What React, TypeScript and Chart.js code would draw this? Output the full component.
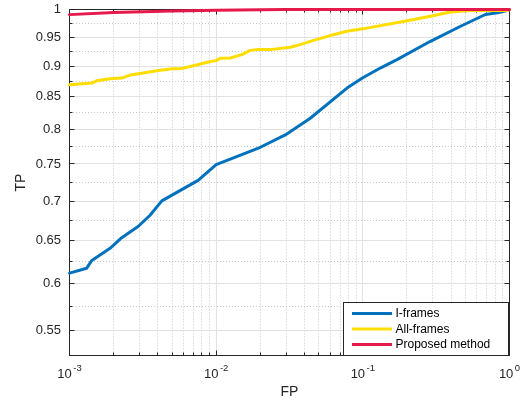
import React, { useEffect, useRef } from "react";
import { Chart, registerables } from "chart.js";

Chart.register(...registerables);

// ---------- data ----------
const iframesFP = [0.001, 0.00131, 0.00142, 0.00189, 0.00227, 0.00295, 0.00354, 0.00426, 0.00753, 0.01, 0.02, 0.0296, 0.0438, 0.078, 0.1, 0.1315, 0.171, 0.289, 0.464, 0.685, 0.83, 0.964, 1];
const iframesTP = [0.612, 0.6177, 0.6267, 0.641, 0.6538, 0.6679, 0.6817, 0.7002, 0.7275, 0.749, 0.7737, 0.7917, 0.8167, 0.8638, 0.8807, 0.8967, 0.9108, 0.9425, 0.9693, 0.9907, 0.994, 0.998, 1];

const allFramesFP = [0.001, 0.00142, 0.00153, 0.00189, 0.00227, 0.00259, 0.00303, 0.00394, 0.00499, 0.00583, 0.007, 0.00885, 0.0101, 0.01064, 0.01246, 0.01496, 0.01706, 0.01897, 0.0234, 0.032, 0.0374, 0.0461, 0.06, 0.078, 0.1, 0.2005, 0.289, 0.395, 0.542, 0.97, 1];
const allFramesTP = [0.8692, 0.872, 0.8757, 0.879, 0.8801, 0.885, 0.8878, 0.8922, 0.8956, 0.896, 0.9006, 0.9069, 0.9096, 0.9133, 0.9136, 0.9193, 0.9267, 0.928, 0.928, 0.932, 0.9367, 0.9442, 0.9526, 0.9603, 0.9646, 0.9793, 0.9876, 0.9953, 0.998, 0.998, 1];

const proposedFP = [0.001, 0.002, 0.005, 0.01, 0.02, 0.03, 1];
const proposedTP = [0.9905, 0.9945, 0.997, 0.9985, 0.9995, 1, 1];

const seriesNames = ["I-frames", "All-frames", "Proposed method"];
const seriesColors = ["#0072bd", "#ffdd00", "#e5194c"];

const xMajorTicks = [0.001, 0.01, 0.1, 1];
const xMajorExponents = ["-3", "-2", "-1", "0"];
const xMinorTicks = [0.002, 0.003, 0.004, 0.005, 0.006, 0.007, 0.008, 0.009, 0.02, 0.03, 0.04, 0.05, 0.06, 0.07, 0.08, 0.09, 0.2, 0.3, 0.4, 0.5, 0.6, 0.7, 0.8, 0.9];
const yMajorTicks = [0.55, 0.6, 0.65, 0.7, 0.75, 0.8, 0.85, 0.9, 0.95, 1];
const yMinorTicks = [0.525, 0.575, 0.625, 0.675, 0.725, 0.775, 0.825, 0.875, 0.925, 0.975];
const xMin = 0.001, xMax = 1, yMin = 0.525, yMax = 1;

const FONT = "'Liberation Sans', Arial, Helvetica, sans-serif";
const AXIS_COLOR = "#262626";

const toPoints = (xs: number[], ys: number[]) => xs.map((x, i) => ({ x, y: ys[i] }));

const crisp = (v: number) => Math.round(v - 0.5) + 0.5;

const matlabPlugin = {
  id: "matlabAxes",
  beforeDatasetsDraw(chart: any) {
    const { ctx, chartArea: a, scales } = chart;
    const xs = scales.x, ys = scales.y;
    ctx.save();
    ctx.strokeStyle = AXIS_COLOR;
    ctx.lineWidth = 1;
    const L = crisp(a.left), R = crisp(a.right), T = crisp(a.top), B = crisp(a.bottom);
    ctx.beginPath();
    ctx.rect(L, T, R - L, B - T);
    ctx.stroke();
    ctx.beginPath();
    const yTick = (v: number, len: number) => {
      const p = crisp(ys.getPixelForValue(v));
      ctx.moveTo(L, p); ctx.lineTo(L + len, p);
      ctx.moveTo(R, p); ctx.lineTo(R - len, p);
    };
    const xTick = (v: number, len: number) => {
      const p = crisp(xs.getPixelForValue(v));
      ctx.moveTo(p, B); ctx.lineTo(p, B - len);
      ctx.moveTo(p, T); ctx.lineTo(p, T + len);
    };
    yMajorTicks.forEach((v) => yTick(v, 5));
    yMinorTicks.forEach((v) => yTick(v, 3));
    xMajorTicks.forEach((v) => xTick(v, 5));
    xMinorTicks.forEach((v) => xTick(v, 3));
    ctx.stroke();

    // x tick labels 10^n
    ctx.fillStyle = AXIS_COLOR;
    ctx.textBaseline = "alphabetic";
    ctx.textAlign = "left";
    xMajorTicks.forEach((v, i) => {
      const p = xs.getPixelForValue(v);
      ctx.font = `13px ${FONT}`;
      const w1 = ctx.measureText("10").width;
      ctx.font = `9.5px ${FONT}`;
      const w2 = ctx.measureText(xMajorExponents[i]).width;
      const gap = 1.5;
      const start = p - (w1 + gap + w2) / 2;
      ctx.font = `13px ${FONT}`;
      ctx.fillText("10", start, a.bottom + 22);
      ctx.font = `9.5px ${FONT}`;
      ctx.fillText(xMajorExponents[i], start + w1 + gap, a.bottom + 15.5);
    });
    ctx.restore();
  },
  afterDraw(chart: any) {
    const { ctx, chartArea: a } = chart;
    ctx.save();
    const L = 343.5, T = 302.5, R = crisp(a.right) - 1, B = crisp(a.bottom);
    ctx.fillStyle = "#ffffff";
    ctx.fillRect(L, T, R - L, B - T);
    ctx.strokeStyle = AXIS_COLOR;
    ctx.lineWidth = 1;
    ctx.strokeRect(L, T, R - L, B - T);
    ctx.font = `12px ${FONT}`;
    ctx.textBaseline = "middle";
    ctx.textAlign = "left";
    chart.data.datasets.forEach((ds: any, i: number) => {
      const y = T + 11 + i * 15.5;
      ctx.strokeStyle = ds.borderColor;
      ctx.lineWidth = 3;
      ctx.beginPath();
      ctx.moveTo(L + 8.5, y);
      ctx.lineTo(L + 48.5, y);
      ctx.stroke();
      ctx.fillStyle = "#000000";
      ctx.fillText(ds.label, L + 52, y + 0.5);
    });
    ctx.restore();
  },
};

const noPad = (s: any) => {
  s.paddingTop = 0;
  s.paddingBottom = 0;
  s.paddingLeft = 0;
  s.paddingRight = 0;
};

export default function App() {
  const ref = useRef<HTMLCanvasElement>(null);
  useEffect(() => {
    if (!ref.current) return;
    const datasets = [
      { label: seriesNames[0], data: toPoints(iframesFP, iframesTP), borderColor: seriesColors[0], order: 2 },
      { label: seriesNames[1], data: toPoints(allFramesFP, allFramesTP), borderColor: seriesColors[1], order: 1 },
      { label: seriesNames[2], data: toPoints(proposedFP, proposedTP), borderColor: seriesColors[2], order: 0 },
    ].map((d) => ({
      ...d,
      borderWidth: 3,
      pointRadius: 0,
      tension: 0,
      fill: false,
      clip: false as any,
      borderCapStyle: "round" as const,
      borderJoinStyle: "round" as const,
    }));

    const chart = new Chart(ref.current, {
      type: "line",
      data: { datasets },
      options: {
        animation: false,
        responsive: false,
        devicePixelRatio: 1,
        layout: { padding: { left: 0, top: 9.5, right: 22.5, bottom: 0 } },
        plugins: { legend: { display: false }, tooltip: { enabled: false } },
        scales: {
          x: {
            type: "logarithmic",
            position: "bottom",
            min: xMin,
            max: xMax,
            afterBuildTicks: (s: any) => { s.ticks = xMajorTicks.map((value) => ({ value })); },
            afterFit: (s: any) => { s.height = 51.5; noPad(s); },
            ticks: { display: false },
            grid: { color: "#e2e2e2", lineWidth: 1, drawTicks: false },
            border: { display: false },
            title: {
              display: true,
              text: "FP",
              color: AXIS_COLOR,
              font: { family: FONT, size: 14 },
              padding: { top: 0, bottom: 6.5 },
            },
          },
          xMinor: {
            type: "logarithmic",
            axis: "x",
            position: "bottom",
            min: xMin,
            max: xMax,
            afterBuildTicks: (s: any) => { s.ticks = xMinorTicks.map((value) => ({ value })); },
            afterFit: (s: any) => { s.height = 0; noPad(s); },
            ticks: { display: false },
            grid: { color: "#c8c8c8", lineWidth: 1, drawTicks: false },
            border: { display: false, dash: [1, 2] },
          },
          y: {
            type: "logarithmic",
            position: "left",
            min: yMin,
            max: yMax,
            afterBuildTicks: (s: any) => { s.ticks = yMajorTicks.map((value) => ({ value })); },
            afterFit: (s: any) => { s.width = 69.5; noPad(s); },
            ticks: {
              display: true,
              autoSkip: false,
              padding: 8.5,
              color: AXIS_COLOR,
              font: { family: FONT, size: 13 },
              callback: (v: any) => String(v),
            },
            grid: { color: "#e2e2e2", lineWidth: 1, drawTicks: false },
            border: { display: false },
            title: {
              display: true,
              text: "TP",
              color: AXIS_COLOR,
              font: { family: FONT, size: 14 },
              padding: { top: 13, bottom: 0 },
            },
          },
          yMinor: {
            type: "logarithmic",
            axis: "y",
            position: "left",
            min: yMin,
            max: yMax,
            afterBuildTicks: (s: any) => { s.ticks = yMinorTicks.map((value) => ({ value })); },
            afterFit: (s: any) => { s.width = 0; noPad(s); },
            ticks: { display: false },
            grid: { color: "#c8c8c8", lineWidth: 1, drawTicks: false },
            border: { display: false, dash: [1, 2] },
          },
        },
      } as any,
      plugins: [matlabPlugin as any],
    });
    return () => chart.destroy();
  }, []);

  return (
    <div style={{ position: "fixed", left: 0, top: 0, width: 532, height: 407, background: "#ffffff" }}>
      <canvas ref={ref} width={532} height={407} style={{ display: "block", width: 532, height: 407 }} />
    </div>
  );
}
